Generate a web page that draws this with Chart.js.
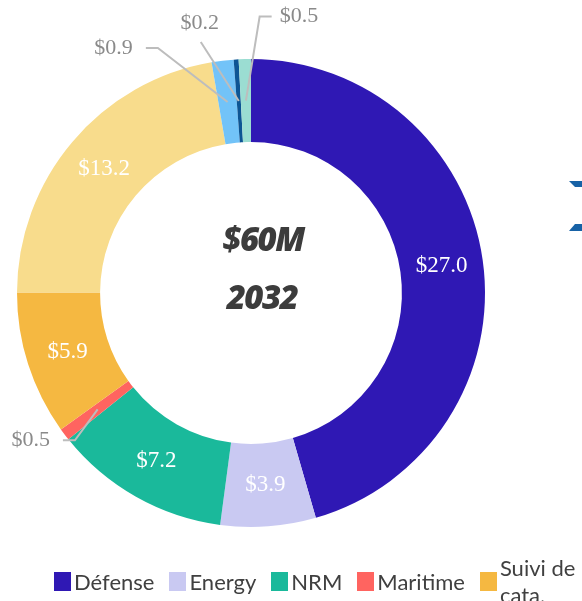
<!DOCTYPE html>
<html>
<head>
<meta charset="utf-8">
<script src="https://cdn.jsdelivr.net/npm/chart.js@4"></script>
<style>
  html, body { margin: 0; padding: 0; background: #fff; overflow: hidden; }
  #wrap { position: relative; width: 582px; height: 601px; }
  #legend {
    position: absolute; left: 54px; top: 552px; height: 58px;
    display: flex; align-items: center; white-space: nowrap;
    font-family: Lato, "Noto Sans", sans-serif; font-size: 22px; color: #404040;
  }
  #legend .item { display: flex; align-items: center; margin-right: 15px; flex: none; }
  #legend .box { width: 17px; height: 19px; margin-right: 3px; flex: none; }
  #legend .txt { white-space: pre; line-height: 27px; }
</style>
</head>
<body>
<div id="wrap">
  <canvas id="marketShare"></canvas>
  <div id="legend"></div>
</div>
<script>
const categories = ['Défense', 'Energy', 'NRM', 'Maritime', 'Suivi de\ncata.', 'Infrastructure', 'Agriculture', 'Assurance', 'Autres'];
const values2032 = [27.0, 3.9, 7.2, 0.5, 5.9, 13.2, 0.9, 0.2, 0.5];
const palette = ['#2F18B4', '#C9C9F2', '#1AB99B', '#FF6460', '#F5B841', '#F8DC8C', '#72C3F8', '#0D5594', '#9BDDD2'];
const year = '2032';
const headline = '$60M';

// value labels: inside the ring, or pulled out with a leader line for thin slices
const sliceLabels = {
  id: 'sliceLabels',
  afterDatasetsDraw(chart, args, opts) {
    const ctx = chart.ctx;
    const vals = chart.data.datasets[0].data;
    chart.getDatasetMeta(0).data.forEach((arc, i) => {
      const p = arc.getProps(['x', 'y', 'startAngle', 'endAngle', 'innerRadius', 'outerRadius'], true);
      const mid = (p.startAngle + p.endAngle) / 2;
      const r = (p.innerRadius + p.outerRadius) / 2;
      const ax = p.x + Math.cos(mid) * r;
      const ay = p.y + Math.sin(mid) * r;
      const text = '$' + vals[i].toFixed(1);
      const c = opts.callouts[i];
      ctx.save();
      ctx.textAlign = 'center';
      ctx.textBaseline = 'middle';
      if (!c) {
        ctx.font = '23px "Liberation Serif", serif';
        ctx.fillStyle = '#ffffff';
        ctx.fillText(text, ax, ay);
      } else {
        ctx.font = '22px "Liberation Serif", serif';
        const w = ctx.measureText(text).width;
        const lx = ax + c.dx, ly = ay + c.dy;
        const pts = [[ax, ay]];
        if (c.side === 'left') {
          const ex = lx + w / 2 + 13;
          pts.push([ex + 12, ly], [ex, ly]);
        } else if (c.side === 'right') {
          const ex = lx - w / 2 - 8;
          pts.push([ex - 12, ly], [ex, ly]);
        } else {
          pts.push([lx + 1, ly + 19]);
        }
        ctx.strokeStyle = '#BDBDBD';
        ctx.lineWidth = 2;
        ctx.beginPath();
        pts.forEach(([x, y], k) => k ? ctx.lineTo(x, y) : ctx.moveTo(x, y));
        ctx.stroke();
        ctx.fillStyle = '#8A8A8A';
        ctx.fillText(text, lx, ly);
      }
      ctx.restore();
    });
  }
};

// total and year in the hole
const centerText = {
  id: 'centerText',
  afterDraw(chart) {
    const ctx = chart.ctx;
    const arc = chart.getDatasetMeta(0).data[0];
    ctx.save();
    ctx.fillStyle = '#3C3C3C';
    ctx.textAlign = 'center';
    ctx.textBaseline = 'middle';
    ctx.font = 'italic 800 33px "Open Sans", sans-serif';
    ctx.letterSpacing = '-1.5px';
    ctx.fillText(headline, arc.x + 12, arc.y - 51);
    ctx.fillText(year, arc.x + 11, arc.y + 7);
    ctx.restore();
  }
};

// bit of the neighbouring arrow at the right edge
const edgeArrow = {
  id: 'edgeArrow',
  afterDraw(chart) {
    const ctx = chart.ctx;
    ctx.save();
    ctx.fillStyle = '#1762A6';
    ctx.beginPath();
    ctx.moveTo(569, 181); ctx.lineTo(582, 181); ctx.lineTo(582, 187); ctx.lineTo(575, 187);
    ctx.closePath(); ctx.fill();
    ctx.beginPath();
    ctx.moveTo(575, 224); ctx.lineTo(582, 224); ctx.lineTo(582, 231); ctx.lineTo(569, 231);
    ctx.closePath(); ctx.fill();
    ctx.restore();
  }
};

const marketShare = document.getElementById('marketShare');

new Chart(marketShare, {
  type: 'doughnut',
  data: {
    labels: categories,
    datasets: [{
      label: year,
      data: values2032,
      backgroundColor: palette,
      borderWidth: 0,
      hoverOffset: 0
    }]
  },
  options: {
    responsive: true,
    maintainAspectRatio: false,
    animation: false,
    cutout: '64.5%',
    layout: { padding: { left: 17, right: 97, top: 59, bottom: 74 } },
    events: [],
    plugins: {
      legend: { display: false },
      tooltip: { enabled: false },
      sliceLabels: {
        callouts: {
          3: { dx: -67, dy: 31, side: 'left' },
          6: { dx: -114, dy: -54, side: 'left' },
          7: { dx: -39, dy: -78, side: 'above' },
          8: { dx: 53, dy: -84, side: 'right' }
        }
      }
    }
  },
  plugins: [sliceLabels, centerText, edgeArrow]
});

// legend row under the ring
const legend = document.getElementById('legend');
categories.forEach((name, i) => {
  const item = document.createElement('div');
  item.className = 'item';
  item.innerHTML = '<span class="box" style="background:' + palette[i] + '"></span><span class="txt"></span>';
  item.querySelector('.txt').textContent = name;
  legend.appendChild(item);
});
</script>
</body>
</html>
